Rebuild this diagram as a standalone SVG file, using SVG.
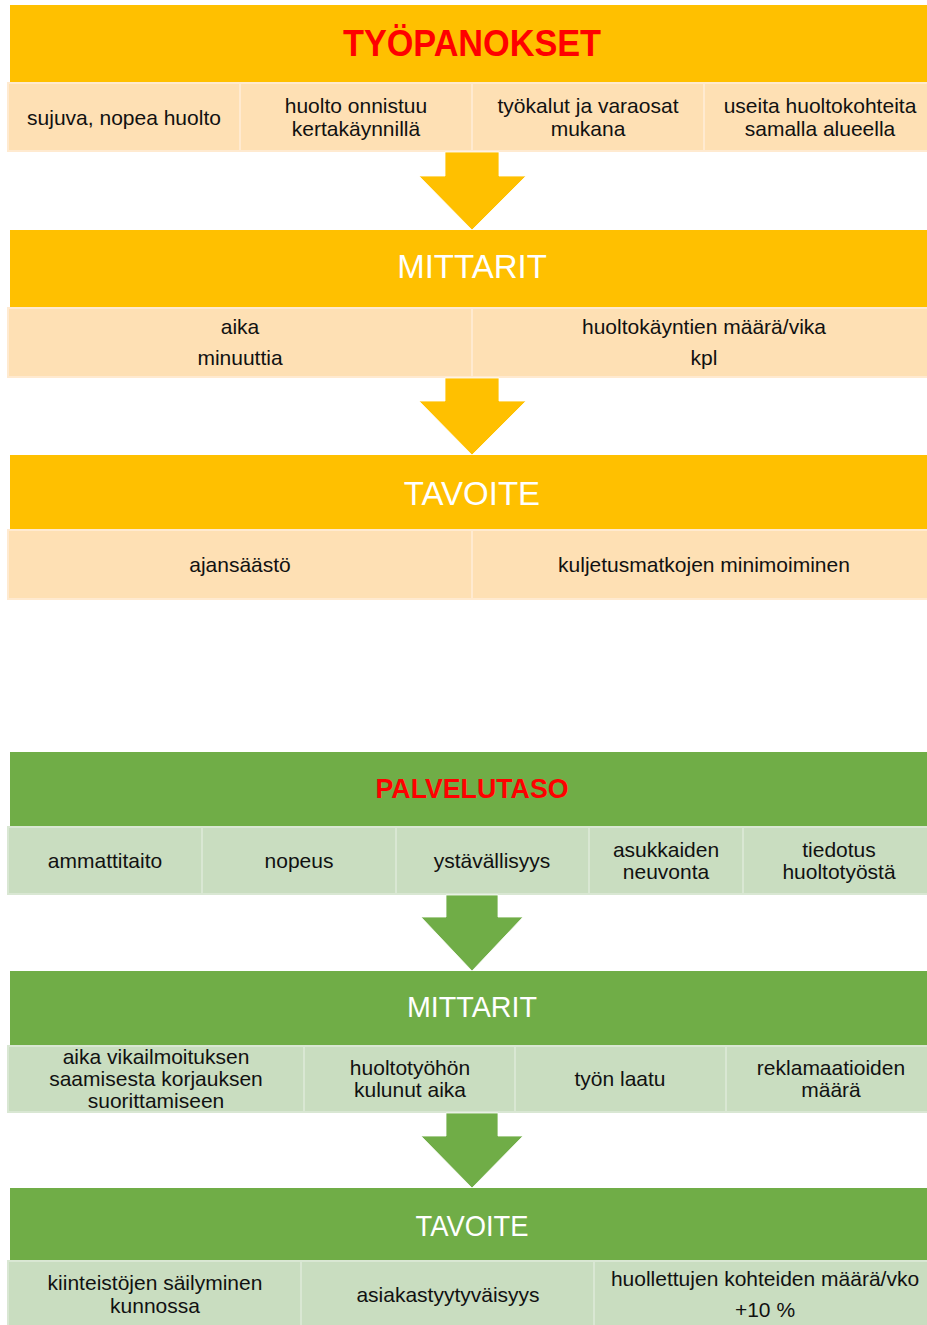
<svg xmlns="http://www.w3.org/2000/svg" width="927" height="1325" viewBox="0 0 927 1325">
  <style>
    .hy { fill: #FFC000; }
    .hg { fill: #70AD47; }
    .cy { fill: #FEE0B4; stroke: #FFEAD0; stroke-width: 2; }
    .cg { fill: #C9DDC0; stroke: #D9E7D3; stroke-width: 2; }
    .ay { fill: #FFC000; stroke: #FFFFFF; stroke-width: 0.8; }
    .ag { fill: #70AD47; stroke: #FFFFFF; stroke-width: 0.8; }
    .t { font-family: "Liberation Sans", Arial, sans-serif; font-size: 21px; fill: #111111; text-anchor: middle; }
    .title { font-family: "Liberation Sans", Arial, sans-serif; font-weight: bold; fill: #FF0000; text-anchor: middle; }
    .head { font-family: "Liberation Sans", Arial, sans-serif; fill: #FFFFFF; text-anchor: middle; }
  </style>

  <rect width="927" height="1325" fill="#FFFFFF"/>

  <!-- ===== Työpanokset chain ===== -->
  <g id="tyopanokset">
    <rect class="hy" x="10" y="5" width="930" height="77"/>
    <text class="title" x="472" y="56" font-size="36" textLength="258" lengthAdjust="spacingAndGlyphs">TYÖPANOKSET</text>
  </g>
  <g id="tyopanokset-items">
    <g id="item-sujuva">
      <rect class="cy" x="8" y="83" width="232" height="68"/>
      <text class="t" x="124" y="125">sujuva, nopea huolto</text>
    </g>
    <g id="item-onnistuu">
      <rect class="cy" x="240" y="83" width="232" height="68"/>
      <text class="t" x="356" y="113">huolto onnistuu</text>
      <text class="t" x="356" y="136">kertakäynnillä</text>
    </g>
    <g id="item-tyokalut">
      <rect class="cy" x="472" y="83" width="232" height="68"/>
      <text class="t" x="588" y="113">työkalut ja varaosat</text>
      <text class="t" x="588" y="136">mukana</text>
    </g>
    <g id="item-useita">
      <rect class="cy" x="704" y="83" width="240" height="68"/>
      <text class="t" x="820" y="113">useita huoltokohteita</text>
      <text class="t" x="820" y="136">samalla alueella</text>
    </g>
  </g>

  <g id="mittarit-1">
    <rect class="hy" x="10" y="230" width="930" height="77"/>
    <text class="head" x="472" y="278" font-size="33">MITTARIT</text>
  </g>
  <g id="mittarit-1-items">
    <g id="item-aika">
      <rect class="cy" x="8" y="308" width="464" height="69"/>
      <text class="t" x="240" y="334">aika</text>
      <text class="t" x="240" y="365">minuuttia</text>
    </g>
    <g id="item-kaynnit">
      <rect class="cy" x="472" y="308" width="472" height="69"/>
      <text class="t" x="704" y="334">huoltokäyntien määrä/vika</text>
      <text class="t" x="704" y="365">kpl</text>
    </g>
  </g>

  <g id="tavoite-1">
    <rect class="hy" x="10" y="455" width="930" height="74"/>
    <text class="head" x="472" y="505" font-size="33">TAVOITE</text>
  </g>
  <g id="tavoite-1-items">
    <g id="item-ajansaasto">
      <rect class="cy" x="8" y="530" width="464" height="69"/>
      <text class="t" x="240" y="572">ajansäästö</text>
    </g>
    <g id="item-kuljetus">
      <rect class="cy" x="472" y="530" width="472" height="69"/>
      <text class="t" x="704" y="572">kuljetusmatkojen minimoiminen</text>
    </g>
  </g>

  <!-- ===== Palvelutaso chain ===== -->
  <g id="palvelutaso">
    <rect class="hg" x="10" y="752" width="930" height="74"/>
    <text class="title" x="472" y="798" font-size="28" textLength="193" lengthAdjust="spacingAndGlyphs">PALVELUTASO</text>
  </g>
  <g id="palvelutaso-items">
    <g id="item-ammattitaito">
      <rect class="cg" x="8" y="827" width="194" height="67"/>
      <text class="t" x="105" y="868">ammattitaito</text>
    </g>
    <g id="item-nopeus">
      <rect class="cg" x="202" y="827" width="194" height="67"/>
      <text class="t" x="299" y="868">nopeus</text>
    </g>
    <g id="item-ystavallisyys">
      <rect class="cg" x="396" y="827" width="193" height="67"/>
      <text class="t" x="492" y="868">ystävällisyys</text>
    </g>
    <g id="item-neuvonta">
      <rect class="cg" x="589" y="827" width="154" height="67"/>
      <text class="t" x="666" y="857">asukkaiden</text>
      <text class="t" x="666" y="879">neuvonta</text>
    </g>
    <g id="item-tiedotus">
      <rect class="cg" x="743" y="827" width="200" height="67"/>
      <text class="t" x="839" y="857">tiedotus</text>
      <text class="t" x="839" y="879">huoltotyöstä</text>
    </g>
  </g>

  <g id="mittarit-2">
    <rect class="hg" x="10" y="971" width="930" height="74"/>
    <text class="head" x="472" y="1017" font-size="29" textLength="130" lengthAdjust="spacingAndGlyphs">MITTARIT</text>
  </g>
  <g id="mittarit-2-items">
    <g id="item-vikailmoitus">
      <rect class="cg" x="8" y="1046" width="296" height="66"/>
      <text class="t" x="156" y="1064">aika vikailmoituksen</text>
      <text class="t" x="156" y="1086">saamisesta korjauksen</text>
      <text class="t" x="156" y="1108">suorittamiseen</text>
    </g>
    <g id="item-huoltotyo">
      <rect class="cg" x="304" y="1046" width="211" height="66"/>
      <text class="t" x="410" y="1075">huoltotyöhön</text>
      <text class="t" x="410" y="1097">kulunut aika</text>
    </g>
    <g id="item-laatu">
      <rect class="cg" x="515" y="1046" width="211" height="66"/>
      <text class="t" x="620" y="1086">työn laatu</text>
    </g>
    <g id="item-reklamaatiot">
      <rect class="cg" x="726" y="1046" width="216" height="66"/>
      <text class="t" x="831" y="1075">reklamaatioiden</text>
      <text class="t" x="831" y="1097">määrä</text>
    </g>
  </g>

  <g id="tavoite-2">
    <rect class="hg" x="10" y="1188" width="930" height="72"/>
    <text class="head" x="472" y="1236" font-size="29" textLength="113" lengthAdjust="spacingAndGlyphs">TAVOITE</text>
  </g>
  <g id="tavoite-2-items">
    <g id="item-kiinteistot">
      <rect class="cg" x="8" y="1261" width="293" height="70"/>
      <text class="t" x="155" y="1290">kiinteistöjen säilyminen</text>
      <text class="t" x="155" y="1313">kunnossa</text>
    </g>
    <g id="item-asiakas">
      <rect class="cg" x="301" y="1261" width="293" height="70"/>
      <text class="t" x="448" y="1302">asiakastyytyväisyys</text>
    </g>
    <g id="item-kohteet">
      <rect class="cg" x="594" y="1261" width="350" height="70"/>
      <text class="t" x="765" y="1286">huollettujen kohteiden määrä/vko</text>
      <text class="t" x="765" y="1317">+10 %</text>
    </g>
  </g>

  <!-- block arrows between the stages -->
  <g id="connectors">
    <polygon class="ay" points="445,152 499,152 499,176 526,176 472,230 419,176 445,176"/>
    <polygon class="ay" points="445,378 499,378 499,401 526,401 472,455 419,401 445,401"/>
    <polygon class="ag" points="446,895 498,895 498,917 523,917 472,971 421,917 446,917"/>
    <polygon class="ag" points="446,1113 498,1113 498,1136 523,1136 472,1188 421,1136 446,1136"/>
  </g>
</svg>
